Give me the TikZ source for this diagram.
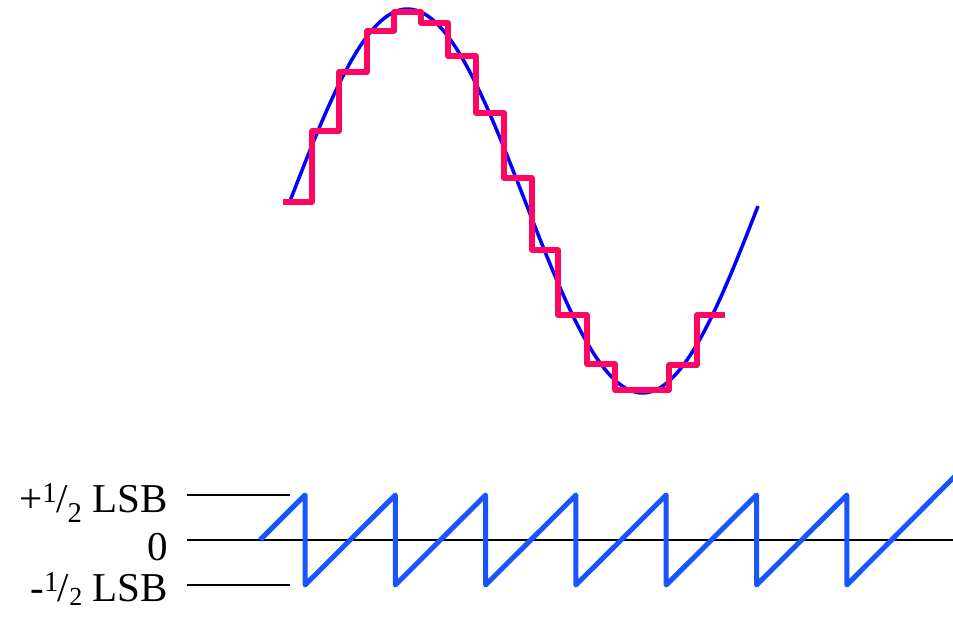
\documentclass[tikz,border=0pt]{standalone}
\usepackage{fontspec}
\setmainfont{Liberation Serif}
\usepackage{tikz}
\definecolor{BlueSine}{RGB}{0,0,255}
\definecolor{RedHold}{RGB}{255,5,100}
\definecolor{BlueError}{RGB}{25,85,255}

\begin{document}
\begin{tikzpicture}[x=1pt,y=-1pt,line join=round,
  sine/.style={BlueSine,line width=3.5pt},
  hold/.style={RedHold,line width=5.5pt},
  saw/.style={BlueError,line width=5pt},
  level/.style={black,line width=2.2pt},
  lbl/.style={anchor=base east,inner sep=0pt,font=\fontsize{41}{44}\selectfont}]
  \useasboundingbox (0,0) rectangle (953,617);

  % Signal and sampled staircase
  \draw[sine,domain=290:758,samples=120,smooth] plot (\x,{201-192*sin((\x-290)/470*360)});
  \draw[hold] (283,202) foreach \sx/\sy in {312/131,339/72,367/31,394/12,421/23,448/56,476/113,
      504/178,532/250,558/315,587/364,615/390,669/365,697/315} { -| (\sx,\sy) } -- (725,315);

  % Levels
  \node[lbl] (plus) at (168,512) {+\textsuperscript{1}\kern-1pt/\textsubscript{2} LSB};
  \node[lbl] (zero) at (168,560) {0};
  \node[lbl] (minus) at (168,601) {-\textsuperscript{1}\kern-1pt/\raisebox{-0.12em}{\fontsize{26}{28}\selectfont 2} LSB};
  \coordinate (hi) at (187,495);
  \coordinate (mid) at (187,540);
  \coordinate (lo) at (187,585);
  \draw[level] (hi) -- ++(103,0);
  \draw[level] (mid) -- (953,540);
  \draw[level] (lo) -- ++(103,0);

  % Quantization error
  \draw[saw] (260,540) foreach \k in {0,...,6} { -- ({305+90.3*\k},495) -- ({305+90.3*\k},585) } -- (960,471);
\end{tikzpicture}
\end{document}
